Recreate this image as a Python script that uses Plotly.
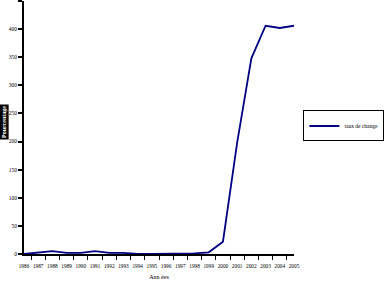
import plotly.graph_objects as go

years = ["1986", "1987", "1988", "1989", "1990", "1991", "1992", "1993", "1994", "1995",
         "1996", "1997", "1998", "1999", "2000", "2001", "2002", "2003", "2004", "2005"]
taux = [0, 3, 5, 2, 2, 5, 2, 2, 0, 0, 0, 1, 1, 3, 22, 198, 348, 406, 402, 406]
y_ticks = [0, 50, 100, 150, 200, 250, 300, 350, 400, 450]

font_fam = "Liberation Serif, Times New Roman, serif"

fig = go.Figure()
fig.add_trace(go.Scatter(x=years, y=taux, mode="lines", name="taux de change",
                         line=dict(color="#000080", width=1.8)))

fig.update_layout(
    width=385, height=282,
    margin=dict(l=24, r=80, t=1, b=28),
    paper_bgcolor="white", plot_bgcolor="white",
    font=dict(family=font_fam, size=5, color="black"),
    showlegend=True,
    legend=dict(x=1.035, y=0.506, xanchor="left", yanchor="middle",
                bordercolor="black", borderwidth=1, bgcolor="white",
                font=dict(size=5.5, family=font_fam), itemwidth=30,
                tracegroupgap=0),
    xaxis=dict(type="category", showgrid=False, showline=True, linecolor="black",
               linewidth=2, ticks="outside", tickson="boundaries", ticklen=4,
               tickcolor="black", tickwidth=1, tickfont=dict(size=5.3, family=font_fam),
               tickangle=0, ticklabelstandoff=6,
               title=dict(text="Ann ées", font=dict(size=6, family=font_fam), standoff=6)),
    yaxis=dict(range=[0, 450], tickvals=y_ticks, showgrid=False, zeroline=False,
               showline=True, linecolor="black", linewidth=2, ticks="outside",
               ticklen=4, tickcolor="black", tickwidth=2,
               tickfont=dict(size=5.5, family=font_fam)),
)

fig.add_annotation(text="<b>Pourcentage</b>", xref="paper", yref="paper",
                   x=-0.072, y=0.52, xanchor="center", yanchor="middle",
                   textangle=-90, showarrow=False, bgcolor="black",
                   font=dict(color="white", size=6, family=font_fam), borderpad=1)

fig.write_html("out.html")
